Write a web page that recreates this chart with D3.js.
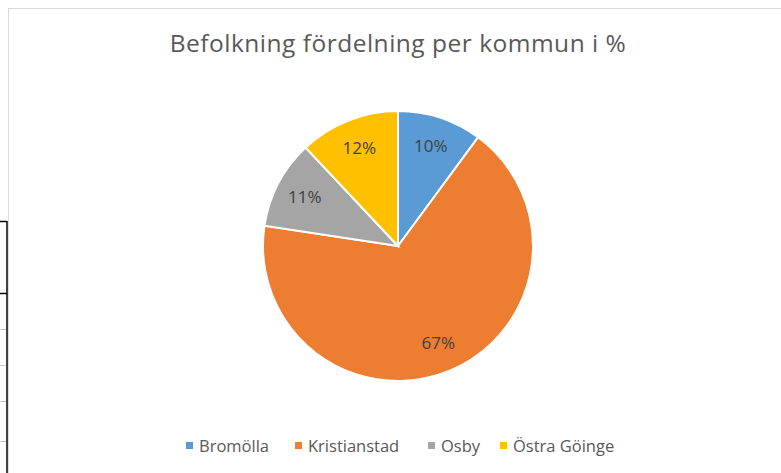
<!DOCTYPE html>
<html>
<head>
<meta charset="utf-8">
<script src="https://cdn.jsdelivr.net/npm/d3@7"></script>
<style>
  body { margin: 0; background: #fff; }
  svg { display: block; }
</style>
</head>
<body>
<script>
  var width = 781,
      height = 473;

  // data (share of population, %)
  var kommuner = ["Bromölla", "Kristianstad", "Osby", "Östra Göinge"];
  var andel = [10.1, 67.3, 10.6, 12.0];
  var etiketter = ["10%", "67%", "11%", "12%"];

  var color = d3.scaleOrdinal()
    .domain(kommuner)
    .range(["#5b9bd5", "#ed7d31", "#a5a5a5", "#ffc000"]);

  var svg = d3.select("body").append("svg")
    .attr("width", width)
    .attr("height", height);

  // spreadsheet bits around the chart
  svg.append("rect")
    .attr("x", 8.5).attr("y", 8.5)
    .attr("width", width).attr("height", height)
    .attr("fill", "#fff")
    .attr("stroke", "#d9d9d9");

  var cells = [221, 293, 329, 365, 401, 441];
  svg.selectAll(".cell")
    .data(cells)
    .enter().append("line")
    .attr("x1", 0).attr("x2", 7)
    .attr("y1", function(d) { return d + 0.5; })
    .attr("y2", function(d) { return d + 0.5; })
    .attr("stroke", function(d, i) { return i < 2 ? "#000" : "#c8c8c8"; })
    .attr("stroke-width", function(d, i) { return i < 2 ? 1.5 : 1; });
  svg.append("line")
    .attr("x1", 7).attr("x2", 7)
    .attr("y1", 221).attr("y2", height)
    .attr("stroke", "#000").attr("stroke-width", 1.5);

  // title
  svg.append("text")
    .attr("x", 398).attr("y", 52)
    .attr("text-anchor", "middle")
    .style("font-family", "'Open Sans', sans-serif")
    .style("font-size", "24.5px")
    .style("letter-spacing", "0.5px")
    .style("fill", "#595959")
    .text("Befolkning fördelning per kommun i %");

  // pie
  var radius = 135;
  var cx = 398, cy = 246;

  var pie = d3.pie()
    .sort(null)
    .value(function(d) { return d; });

  var arc = d3.arc()
    .outerRadius(radius)
    .innerRadius(0);

  var labelArc = d3.arc()
    .outerRadius(radius * 0.78)
    .innerRadius(radius * 0.78);

  var g = svg.append("g")
    .attr("transform", "translate(" + cx + "," + cy + ")");

  var slices = g.selectAll(".arc")
    .data(pie(andel))
    .enter().append("g")
    .attr("class", "arc");

  slices.append("path")
    .attr("d", arc)
    .style("fill", function(d, i) { return color(kommuner[i]); })
    .style("stroke", "#fff")
    .style("stroke-width", 2);

  slices.append("text")
    .attr("transform", function(d) { return "translate(" + labelArc.centroid(d) + ")"; })
    .attr("text-anchor", "middle")
    .attr("dy", "0.35em")
    .style("font-family", "'Open Sans', sans-serif")
    .style("font-size", "17px")
    .style("fill", "#404040")
    .text(function(d, i) { return etiketter[i]; });

  // legend
  var legendX = [186, 295, 428, 500];
  var legend = svg.selectAll(".legend")
    .data(kommuner)
    .enter().append("g")
    .attr("class", "legend")
    .attr("transform", function(d, i) { return "translate(" + legendX[i] + ",446)"; });

  legend.append("rect")
    .attr("x", 0).attr("y", -4)
    .attr("width", 7).attr("height", 7)
    .style("fill", function(d) { return color(d); });

  legend.append("text")
    .attr("x", 13)
    .attr("dy", "0.35em")
    .style("font-family", "'Open Sans', sans-serif")
    .style("font-size", "16.5px")
    .style("fill", "#595959")
    .text(function(d) { return d; });
</script>
</body>
</html>
